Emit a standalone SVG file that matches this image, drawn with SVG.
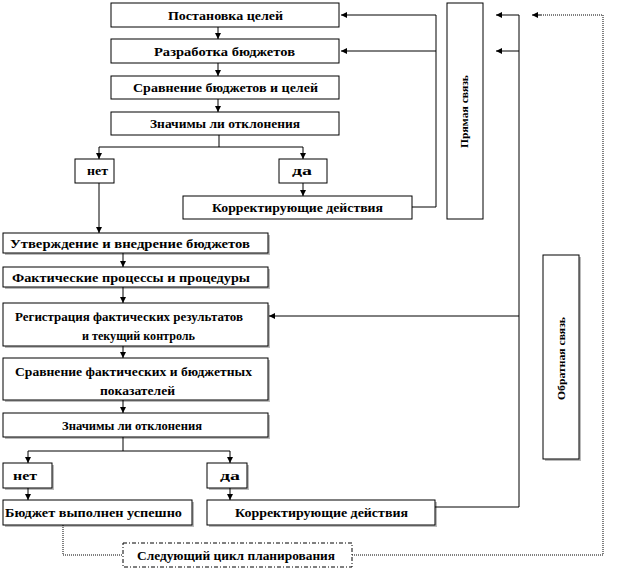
<svg xmlns="http://www.w3.org/2000/svg" width="639" height="570" viewBox="0 0 639 570">
<style>
.b{fill:#fff;stroke:#000;stroke-width:1}
.s{fill:#bbb}
.t{font-family:"Liberation Serif","Times New Roman",serif;font-weight:bold;font-size:13px;fill:#000;text-anchor:middle}
.v{font-family:"Liberation Serif","Times New Roman",serif;font-weight:bold;font-size:11px;fill:#000;text-anchor:middle}
.l{fill:none;stroke:#000;stroke-width:1}
.d{fill:none;stroke:#000;stroke-width:1;stroke-dasharray:1,1}
.a{marker-end:url(#ar)}
</style>
<defs>
<marker id="ar" markerUnits="userSpaceOnUse" markerWidth="7" markerHeight="7" refX="6" refY="3.5" orient="auto">
<path d="M0,0.5 L6,3.5 L0,6.5 Z" fill="#000"/>
</marker>
</defs>
<rect width="639" height="570" fill="#fff"/>
<g id="n1"><rect class="b" x="111" y="3" width="228" height="24"/><text class="t" x="225.5" y="20" textLength="115" lengthAdjust="spacingAndGlyphs">Постановка целей</text></g>
<g id="n2"><rect class="b" x="111" y="39" width="228" height="24"/><text class="t" x="224.5" y="56" textLength="141" lengthAdjust="spacingAndGlyphs">Разработка бюджетов</text></g>
<g id="n3"><rect class="b" x="111" y="76" width="228" height="23"/><text class="t" x="225.5" y="92" textLength="185" lengthAdjust="spacingAndGlyphs">Сравнение  бюджетов и целей</text></g>
<g id="n4"><rect class="b" x="111" y="112" width="228" height="23"/><text class="t" x="225" y="128" textLength="150" lengthAdjust="spacingAndGlyphs">Значимы ли отклонения</text></g>
<g id="n5"><rect class="b" x="75" y="159" width="39" height="24"/><text class="t" x="97.5" y="175" textLength="21" lengthAdjust="spacingAndGlyphs">нет</text></g>
<g id="n6"><rect class="b" x="279" y="159" width="48" height="24"/><text class="t" x="302" y="175" textLength="20" lengthAdjust="spacingAndGlyphs">да</text></g>
<g id="n7"><rect class="b" x="183" y="196" width="229" height="23"/><text class="t" x="297.5" y="212" textLength="171" lengthAdjust="spacingAndGlyphs">Корректирующие  действия</text></g>
<g id="n8"><rect class="b" x="447" y="3" width="36" height="216"/><text class="v" transform="translate(468,111.5) rotate(-90)" textLength="73" lengthAdjust="spacingAndGlyphs">Прямая связь</text></g>
<g id="n9"><rect class="s" x="5" y="235" width="265" height="20"/><rect class="b" x="3" y="233" width="265" height="20"/><text class="t" x="130" y="248" textLength="240" lengthAdjust="spacingAndGlyphs">Утверждение и внедрение бюджетов</text></g>
<g id="n10"><rect class="s" x="5" y="269" width="265" height="20"/><rect class="b" x="3" y="267" width="265" height="20"/><text class="t" x="131" y="282" textLength="238" lengthAdjust="spacingAndGlyphs">Фактические процессы и процедуры</text></g>
<g id="n11"><rect class="s" x="5" y="305" width="265" height="43"/><rect class="b" x="3" y="303" width="265" height="43"/><text class="t" x="129" y="321" textLength="228" lengthAdjust="spacingAndGlyphs">Регистрация фактических результатов</text><text class="t" x="138.5" y="340" textLength="113" lengthAdjust="spacingAndGlyphs">и текущий контроль</text></g>
<g id="n12"><rect class="s" x="5" y="360" width="265" height="42"/><rect class="b" x="3" y="358" width="265" height="42"/><text class="t" x="133.5" y="376" textLength="237" lengthAdjust="spacingAndGlyphs">Сравнение  фактических и бюджетных</text><text class="t" x="137.5" y="395" textLength="75" lengthAdjust="spacingAndGlyphs">показателей</text></g>
<g id="n13"><rect class="s" x="5" y="415" width="265" height="24"/><rect class="b" x="3" y="413" width="265" height="24"/><text class="t" x="132" y="430" textLength="140" lengthAdjust="spacingAndGlyphs">Значимы ли отклонения</text></g>
<g id="n14"><rect class="s" x="5" y="465" width="49" height="25"/><rect class="b" x="3" y="463" width="49" height="25"/><text class="t" x="25" y="480" textLength="24" lengthAdjust="spacingAndGlyphs">нет</text></g>
<g id="n15"><rect class="s" x="209" y="465" width="40" height="25"/><rect class="b" x="207" y="463" width="40" height="25"/><text class="t" x="230" y="480" textLength="20" lengthAdjust="spacingAndGlyphs">да</text></g>
<g id="n16"><rect class="s" x="5" y="502" width="189" height="25"/><rect class="b" x="3" y="500" width="189" height="25"/><text class="t" x="93.5" y="517" textLength="177" lengthAdjust="spacingAndGlyphs">Бюджет выполнен успешно</text></g>
<g id="n17"><rect class="s" x="209" y="502" width="228" height="25"/><rect class="b" x="207" y="500" width="228" height="25"/><text class="t" x="321.5" y="517" textLength="173" lengthAdjust="spacingAndGlyphs">Корректирующие  действия</text></g>
<g id="n18"><rect class="s" x="545" y="257" width="36" height="204"/><rect class="b" x="543" y="255" width="36" height="204"/><text class="v" transform="translate(565,358.5) rotate(-90)" textLength="83" lengthAdjust="spacingAndGlyphs">Обратная связь</text></g>
<g id="n19"><rect x="123" y="543" width="229" height="24" fill="#fff" stroke="#000" stroke-dasharray="4,2,1,2"/><text class="t" x="236" y="560" textLength="198" lengthAdjust="spacingAndGlyphs">Следующий цикл планирования</text></g>
<g id="connectors">
<path class="l a" d="M218,27 V39"/>
<path class="l a" d="M218,63 V76"/>
<path class="l a" d="M218,99 V112"/>
<path class="l" d="M219,135 V147 M99,147 H303"/>
<path class="l a" d="M99,147 V159"/>
<path class="l a" d="M303,147 V159"/>
<path class="l a" d="M303,183 V196"/>
<path class="l a" d="M99,183 V233"/>
<path class="l" d="M412,207 H436 V15"/>
<path class="l a" d="M436,15 H341"/>
<path class="l a" d="M436,51 H341"/>
<path class="l a" d="M123,253 V267"/>
<path class="l a" d="M123,287 V303"/>
<path class="l a" d="M123,346 V358"/>
<path class="l a" d="M123,400 V413"/>
<path class="l" d="M123,437 V451 M28,451 H230"/>
<path class="l a" d="M28,451 V463"/>
<path class="l a" d="M230,451 V463"/>
<path class="l a" d="M28,488 V500"/>
<path class="l a" d="M230,488 V500"/>
<path class="l" d="M435,507 H519 V15"/>
<path class="l a" d="M519,15 H496"/>
<path class="l a" d="M519,51 H496"/>
<path class="l a" d="M519,316 H269"/>
<path class="d" d="M63,525 V555 H123"/>
<path class="d" d="M352,555 H603 V15 H540"/>
<path class="l a" d="M541,15 H532"/>
</g>
</svg>
